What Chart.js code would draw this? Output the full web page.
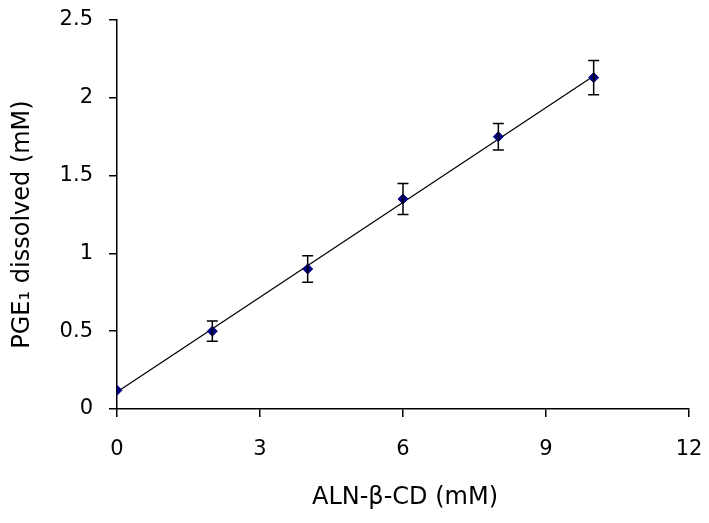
<!DOCTYPE html>
<html>
<head>
<meta charset="utf-8">
<script src="https://cdn.jsdelivr.net/npm/chart.js@4"></script>
<style>
  html, body { margin: 0; padding: 0; background: #fff; }
  #wrap { width: 709px; height: 523px; }
</style>
</head>
<body>
<div id="wrap"><canvas id="solChart"></canvas></div>
<script>
// values
const concX = [0, 2, 4, 6, 8, 10];
const dissolvedY = [0.12, 0.50, 0.90, 1.35, 1.75, 2.13];
const errY = [0, 0.065, 0.085, 0.10, 0.085, 0.11];
const trendX = [0, 10];
const trendY = [0.11, 2.14];

const xTicks = [0, 3, 6, 9, 12];
const yTicks = [0, 0.5, 1, 1.5, 2, 2.5];

const xTitle = "ALN-β-CD (mM)";
const yTitle = "PGE₁ dissolved (mM)";

const FONT = "'DejaVu Sans', sans-serif";

// error bars drawn through the chart's own scales
const errorBars = {
    id: "errorBars",
    afterDatasetsDraw(chart) {
        let ctx = chart.ctx;
        let xs = chart.scales.x;
        let ys = chart.scales.y;
        ctx.save();
        ctx.strokeStyle = "#000";
        ctx.lineWidth = 1.5;
        for (let i = 0; i < concX.length; i++) {
            if (!errY[i]) continue;
            let px = xs.getPixelForValue(concX[i]);
            let top = ys.getPixelForValue(dissolvedY[i] + errY[i]);
            let bot = ys.getPixelForValue(dissolvedY[i] - errY[i]);
            ctx.beginPath();
            ctx.moveTo(px, top); ctx.lineTo(px, bot);
            ctx.moveTo(px - 5.5, top); ctx.lineTo(px + 5.5, top);
            ctx.moveTo(px - 5.5, bot); ctx.lineTo(px + 5.5, bot);
            ctx.stroke();
        }
        ctx.restore();
    }
};

// axis titles, placed like in the original figure
const axisTitles = {
    id: "axisTitles",
    afterDraw(chart) {
        let ctx = chart.ctx;
        let area = chart.chartArea;
        ctx.save();
        ctx.fillStyle = "#000";
        ctx.font = "24px " + FONT;
        ctx.textAlign = "center";
        ctx.textBaseline = "alphabetic";
        ctx.fillText(xTitle, (area.left + area.right) / 2 + 2, 504);
        ctx.translate(29, (area.top + area.bottom) / 2 + 10);
        ctx.rotate(-Math.PI / 2);
        ctx.fillText(yTitle, 0, 0);
        ctx.restore();
    }
};

new Chart(document.getElementById("solChart"), {
    type: "scatter",
    data: {
        datasets: [
            {
                label: "PGE1",
                data: concX.map((x, i) => ({ x: x, y: dissolvedY[i] })),
                pointStyle: "rectRot",
                pointRadius: 5,
                backgroundColor: "#000080",
                borderColor: "#000080",
                borderWidth: 1,
                order: 0
            },
            {
                label: "trend",
                type: "line",
                data: trendX.map((x, i) => ({ x: x, y: trendY[i] })),
                borderColor: "#000",
                borderWidth: 1.2,
                pointRadius: 0,
                fill: false,
                order: 1
            }
        ]
    },
    options: {
        responsive: true,
        maintainAspectRatio: false,
        animation: false,
        layout: { padding: { top: 20, right: 20, left: 0, bottom: 0 } },
        plugins: {
            legend: { display: false },
            tooltip: { enabled: false }
        },
        scales: {
            x: {
                type: "linear",
                min: 0,
                max: 12,
                afterBuildTicks: (s) => { s.ticks = xTicks.map(v => ({ value: v })); },
                afterFit: (s) => { s.height = 114; s.paddingLeft = 0; s.paddingRight = 0; },
                border: { color: "#000", width: 1.5 },
                grid: { drawOnChartArea: false, drawTicks: true, tickLength: 8, color: "#000", lineWidth: 1.5 },
                ticks: { color: "#000", font: { family: FONT, size: 21 }, padding: 20, callback: (v) => String(v) }
            },
            y: {
                type: "linear",
                min: 0,
                max: 2.5,
                afterBuildTicks: (s) => { s.ticks = yTicks.map(v => ({ value: v })); },
                afterFit: (s) => { s.width = 117; s.paddingTop = 0; s.paddingBottom = 0; },
                border: { color: "#000", width: 1.5 },
                grid: { drawOnChartArea: false, drawTicks: true, tickLength: 8, color: "#000", lineWidth: 1.5 },
                ticks: { color: "#000", font: { family: FONT, size: 21 }, padding: 16, callback: (v) => String(v) }
            }
        }
    },
    plugins: [errorBars, axisTitles]
});
</script>
</body>
</html>
